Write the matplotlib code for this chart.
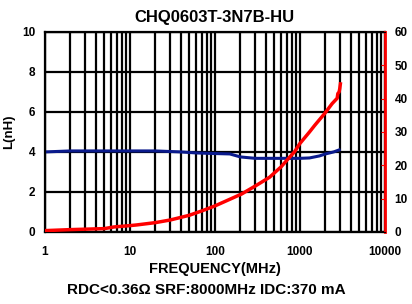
import numpy as np
import matplotlib.pyplot as plt
from matplotlib.ticker import LogLocator, NullFormatter

plt.rcParams['font.family'] = ['Liberation Sans', 'DejaVu Sans']
plt.rcParams['font.weight'] = 'bold'

# inductance curve (blue, left axis)
freq_l = [1, 2, 5, 10, 20, 40, 60, 100, 150, 200, 300, 500, 1000, 1300, 1700, 2000, 2500, 2900]
l_nh = [4.0, 4.05, 4.05, 4.05, 4.05, 4.0, 3.95, 3.92, 3.9, 3.75, 3.68, 3.68, 3.68, 3.7, 3.8, 3.9, 4.0, 4.1]

# Q curve (red, right axis)
freq_q = [1, 2, 5, 6.5, 10, 12, 20, 30, 50, 70, 100, 150, 207, 300, 440, 600, 750, 870, 1000,
          1300, 1500, 1970, 2400, 2750, 2800, 2900, 2950, 3000]
q_val = [0.4, 0.7, 1.0, 1.5, 1.9, 2.1, 2.8, 3.6, 5.0, 6.3, 7.8, 9.8, 11.4, 13.8, 16.4, 19.5, 22.3,
         24.1, 26.5, 30.0, 32.0, 35.6, 38.5, 40.1, 41.5, 42.0, 43.0, 44.4]

x_ticks = [1, 10, 100, 1000, 10000]
x_labels = ['1', '10', '100', '1000', '10000']
l_ticks = [0, 2, 4, 6, 8, 10]
q_ticks = [0, 10, 20, 30, 40, 50, 60]

fig = plt.figure(figsize=(4.12, 3.04), dpi=100)
ax = fig.add_axes([0.109, 0.237, 0.825, 0.658])

ax.set_xscale('log')
ax.set_xlim(1, 10000)
ax.set_ylim(0, 10)
ax.set_xticks(x_ticks)
ax.set_xticklabels(x_labels)
ax.set_yticks(l_ticks)
ax.xaxis.set_minor_locator(LogLocator(base=10, subs=np.arange(2, 10)))
ax.xaxis.set_minor_formatter(NullFormatter())
ax.grid(True, which='both', axis='x', color='black', lw=1.6)
ax.grid(True, which='major', axis='y', color='black', lw=1.6)
ax.tick_params(which='both', length=0, labelsize=8.5)
ax.tick_params(axis='x', pad=10)
ax.tick_params(axis='y', pad=7)
for s in ax.spines.values():
    s.set_linewidth(1.6)

ax.plot(freq_l, l_nh, color='#0a1a8c', lw=2.2, zorder=5)
ax.set_ylabel('L(nH)', fontsize=9.5, fontweight='bold', labelpad=5)
ax.set_xlabel('FREQUENCY(MHz)', fontsize=10.5, fontweight='bold', labelpad=3)
ax.set_title('CHQ0603T-3N7B-HU', fontsize=12, fontweight='bold', pad=7)

ax2 = ax.twinx()
ax2.set_ylim(0, 60)
ax2.set_yticks(q_ticks)
ax2.plot(freq_q, q_val, color='#ff0000', lw=2.5, zorder=5)
ax2.spines['right'].set_color('red')
ax2.spines['right'].set_linewidth(2)
ax2.tick_params(axis='y', direction='in', length=3, color='red', labelsize=8.5, pad=7)

fig.text(0.5, 0.045, 'RDC<0.36Ω SRF:8000MHz IDC:370 mA', ha='center', va='center',
         fontsize=11, fontweight='bold')

fig.savefig('out.png', dpi=100)
